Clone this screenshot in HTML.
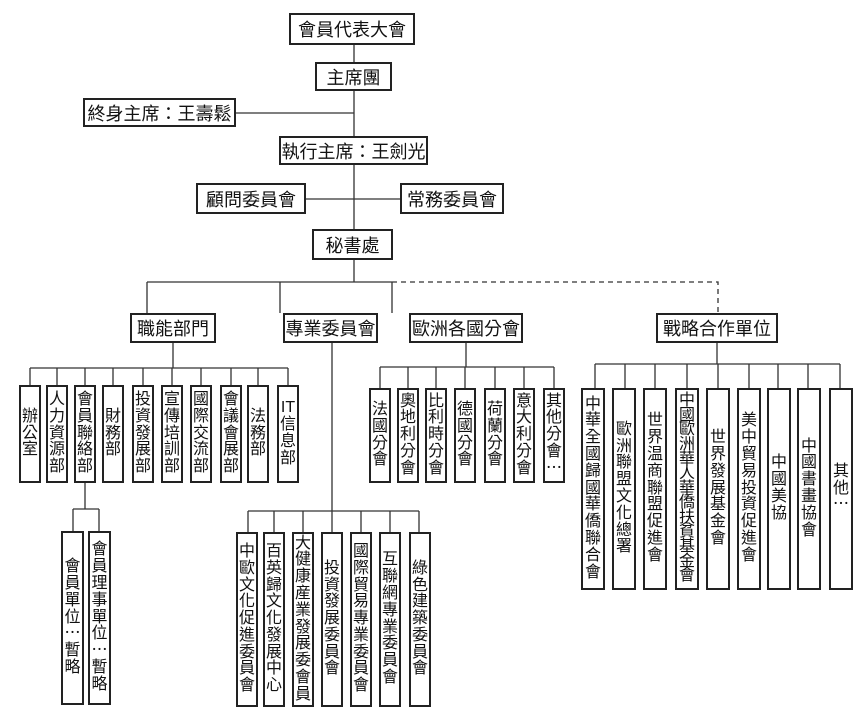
<!DOCTYPE html>
<html><head><meta charset="utf-8"><style>
body{margin:0;width:858px;height:719px;background:#fff;position:relative;overflow:hidden;font-family:"Liberation Sans","Noto Sans CJK TC",sans-serif;color:#111}
.b{position:absolute;box-sizing:border-box;border:2px solid #222;background:#fff;display:flex;align-items:center;justify-content:center}
.h{font-size:18px;white-space:nowrap}
.v{flex-direction:column;font-size:16px}
.v span{display:block;text-align:center;width:18px;height:16.8px;line-height:16.8px;overflow:visible}
svg{position:absolute;left:0;top:0}
</style></head><body>
<svg width="858" height="719" stroke="#333" stroke-width="1.3" fill="none">
<path d="M354 45V229M236 113H354M306 199H400M354 260V282M147 282H392M147 282V313M280 282V313M392 282V313"/>
<path d="M392 282H718V313" stroke-dasharray="5,4"/>
<path d="M173 343V368M30 368H288M30 368V385M57 368V385M85 368V385M113 368V385M143 368V385M172 368V385M201 368V385M231 368V385M258 368V385M288 368V385"/>
<path d="M85 483V509M73 509H99M73 509V531M99 509V531"/>
<path d="M332 343V511M248 511H419M248 511V532M274 511V532M303 511V532M332 511V532M361 511V532M390 511V532M419 511V532"/>
<path d="M466 343V367M380 367H554M380 367V388M408 367V388M436 367V388M465 367V388M495 367V388M524 367V388M554 367V388"/>
<path d="M717 343V364M595 364H840M595 364V388M625 364V388M655 364V388M687 364V388M718 364V388M749 364V388M778 364V388M808 364V388M840 364V388"/>
</svg>
<div id="c"></div>
<script>
var H=[["會員代表大會",289,13,126,32],["主席團",315,62,77,29],["終身主席：王壽鬆",83,98,153,29],["執行主席：王劍光",279,136,149,29],["顧問委員會",196,183,110,31],["常務委員會",400,183,104,31],["秘書處",312,229,81,31],["職能部門",130,313,86,30],["專業委員會",283,313,95,30],["歐洲各國分會",409,313,114,30],["戰略合作單位",656,313,122,30]];
var V=[];
function row(arr,xs,y,h,w){arr.forEach(function(t,i){V.push([t,xs[i],y,w||22,h])})}
row(["辦公室","人力資源部","會員聯絡部","財務部","投資發展部","宣傳培訓部","國際交流部","會議會展部","法務部","IT信息部"],[19,46,74,102,132,161,190,220,247,277],385,98);
row(["會員單位⋯暫略","會員理事單位⋯暫略"],[61,88],531,174,23);
row(["中歐文化促進委員會","百英歸文化發展中心","大健康産業發展委會員","投資發展委員會","國際貿易專業委員會","互聯網專業委員會","綠色建築委員會"],[236,263,292,321,350,379,409],532,175);
row(["法國分會","奧地利分會","比利時分會","德國分會","荷蘭分會","意大利分會","其他分會⋯"],[369,397,425,454,484,513,543],388,95);
row(["中華全國歸國華僑聯合會","歐洲聯盟文化總署","世界温商聯盟促進會","中國歐洲華人華僑扶貧基金會","世界發展基金會","美中貿易投資促進會","中國美協","中國書畫協會","其他⋯"],[581,612,643,675,706,737,767,797,829],388,202,24);
var s="";
H.forEach(function(a){s+='<div class="b h" style="left:'+a[1]+'px;top:'+a[2]+'px;width:'+a[3]+'px;height:'+a[4]+'px">'+a[0]+'</div>'});
V.forEach(function(a){var t=a[0];var inner="";
 var lh=t.length>=13?14.6:16.8;
 if(t.indexOf("IT")==0){inner='<span style="height:'+lh+'px;line-height:'+lh+'px">IT</span>';t=t.slice(2)}
 for(var i=0;i<t.length;i++)inner+='<span style="height:'+lh+'px;line-height:'+lh+'px">'+t[i]+'</span>';
 s+='<div class="b v" style="left:'+a[1]+'px;top:'+a[2]+'px;width:'+a[3]+'px;height:'+a[4]+'px">'+inner+'</div>'});
document.getElementById("c").innerHTML=s;
</script>
</body></html>
